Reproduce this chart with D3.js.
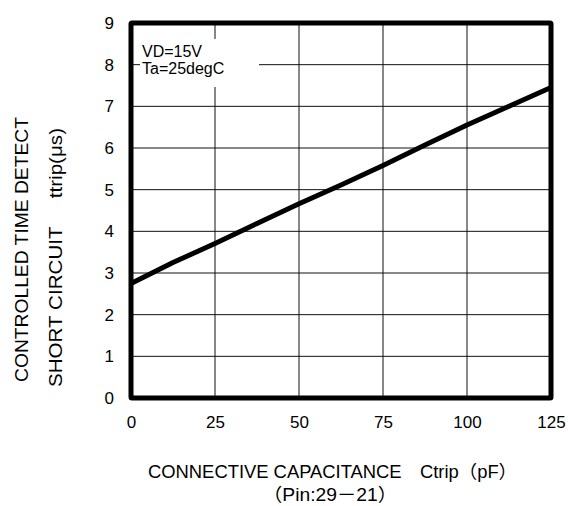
<!DOCTYPE html>
<html><head><meta charset="utf-8">
<script src="https://cdn.jsdelivr.net/npm/d3@7"></script>
<style>body{margin:0;background:#fff}svg{display:block}text{font-family:"Liberation Sans",Arial,"Noto Sans CJK JP",sans-serif;fill:#000}</style>
</head><body><svg id="c" width="568" height="506"></svg>
<script>
const capacitance = [0, 12.5, 25, 37.5, 50, 62.5, 75, 87.5, 100, 112.5, 125];
const ttrip = [2.75, 3.25, 3.71, 4.19, 4.66, 5.11, 5.58, 6.07, 6.55, 7.0, 7.45];
const xTicks = [0, 25, 50, 75, 100, 125];
const yTicks = [0, 1, 2, 3, 4, 5, 6, 7, 8, 9];
const notes = ["VD=15V", "Ta=25degC"];

const svg = d3.select("#c");
const L = 131, R = 551, T = 23, B = 398;
const x = d3.scaleLinear().domain([0, 125]).range([L, R]);
const y = d3.scaleLinear().domain([0, 9]).range([B, T]);

// grid
svg.append("g").selectAll("line").data(xTicks.slice(1, -1)).join("line")
  .attr("x1", d => x(d)).attr("x2", d => x(d)).attr("y1", T).attr("y2", B)
  .attr("stroke", "#111").attr("stroke-width", 1);
svg.append("g").selectAll("line").data(yTicks.slice(1, -1)).join("line")
  .attr("x1", L).attr("x2", R).attr("y1", d => y(d)).attr("y2", d => y(d))
  .attr("stroke", "#111").attr("stroke-width", 1);

// legend box (white)
svg.append("rect").attr("x", 140).attr("y", 39).attr("width", 119).attr("height", 48).attr("fill", "#fff");
svg.append("g").selectAll("text").data(notes).join("text")
  .attr("x", 142).attr("y", (d, i) => 57 + i * 17).attr("font-size", 16).text(d => d);

// curve
svg.append("path").datum(capacitance.map((c, i) => [c, ttrip[i]]))
  .attr("d", d3.line().x(d => x(d[0])).y(d => y(d[1])))
  .attr("fill", "none").attr("stroke", "#000").attr("stroke-width", 5).attr("stroke-linejoin", "round");

// frame
svg.append("rect").attr("x", L).attr("y", T).attr("width", R - L).attr("height", B - T)
  .attr("fill", "none").attr("stroke", "#000").attr("stroke-width", 5).attr("rx", 1);

// axes labels via d3 axes
const xAxis = svg.append("g").attr("transform", `translate(0,${B})`)
  .call(d3.axisBottom(x).tickValues(xTicks).tickSize(0).tickPadding(18));
xAxis.select(".domain").remove();
xAxis.selectAll("text").attr("font-size", 17).style("font-family", '"Liberation Sans",Arial,sans-serif');

const yAxis = svg.append("g").attr("transform", `translate(${L},0)`)
  .call(d3.axisLeft(y).tickValues(yTicks).tickSize(0).tickPadding(17));
yAxis.select(".domain").remove();
yAxis.selectAll("text").attr("font-size", 17).style("font-family", '"Liberation Sans",Arial,sans-serif');

// titles
svg.append("text").attr("x", 148).attr("y", 478).attr("font-size", 18)
  .attr("textLength", 369).attr("lengthAdjust", "spacingAndGlyphs")
  .text("CONNECTIVE CAPACITANCE\u3000Ctrip（pF）");
svg.append("text").attr("x", 263).attr("y", 501).attr("font-size", 18)
  .attr("textLength", 134).attr("lengthAdjust", "spacingAndGlyphs")
  .text("（Pin:29－21）");
svg.append("text").attr("transform", "translate(28,382) rotate(-90)").attr("font-size", 18)
  .attr("textLength", 265).attr("lengthAdjust", "spacingAndGlyphs")
  .text("CONTROLLED TIME DETECT");
svg.append("text").attr("transform", "translate(62,387) rotate(-90)").attr("font-size", 18)
  .attr("textLength", 259).attr("lengthAdjust", "spacingAndGlyphs")
  .attr("xml:space", "preserve").style("white-space", "pre")
  .text("SHORT CIRCUIT     ttrip(μs)");
</script></body></html>
